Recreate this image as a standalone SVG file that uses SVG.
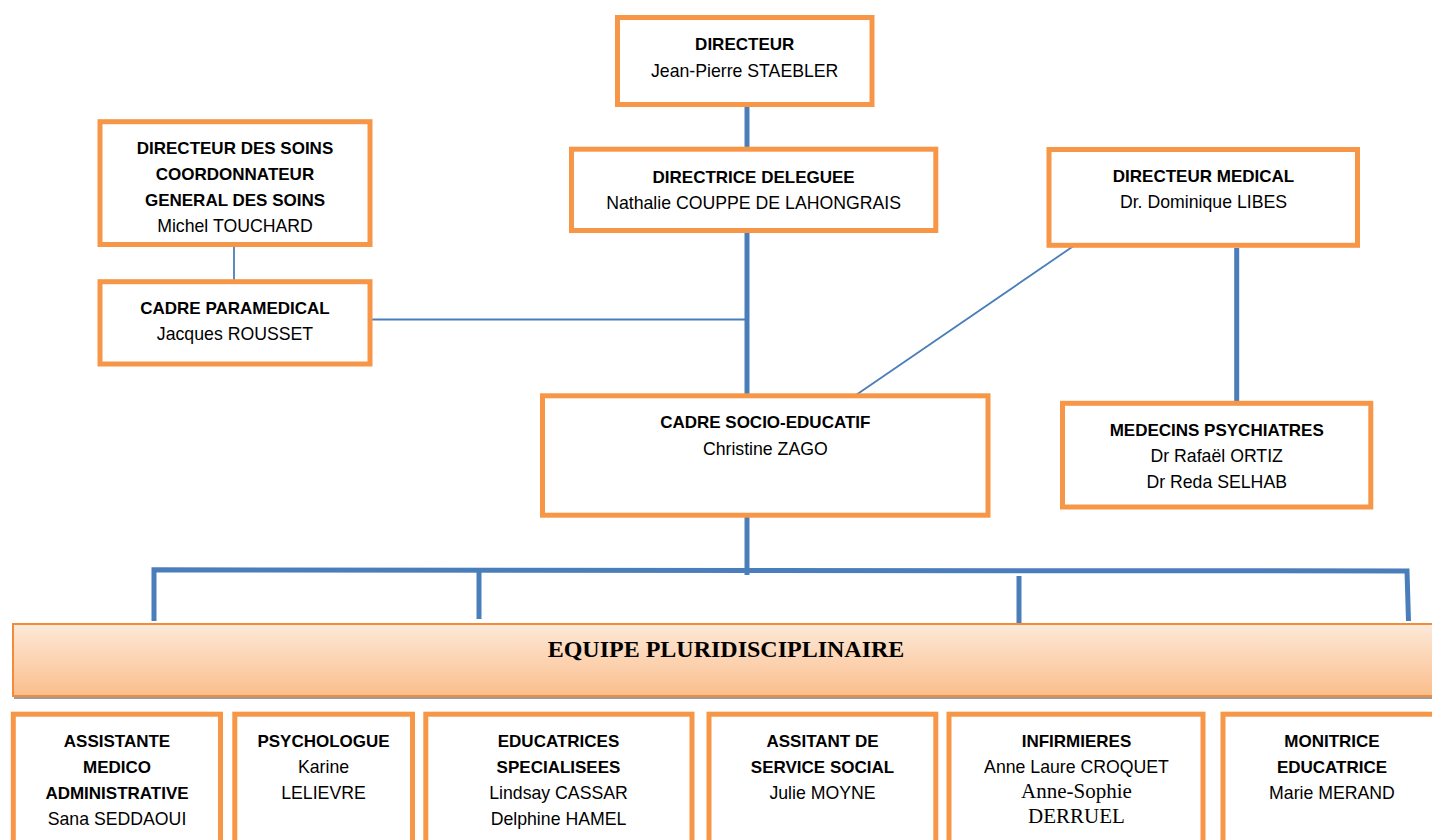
<svg xmlns="http://www.w3.org/2000/svg" width="1432" height="840" viewBox="0 0 1432 840">
<defs>
<linearGradient id="bandGrad" x1="0" y1="0" x2="0" y2="1">
<stop offset="0" stop-color="#FDE9D9"/>
<stop offset="1" stop-color="#FBBE8C"/>
</linearGradient>
</defs>
<style>
.box{fill:#FFFFFF;stroke:#F79646;stroke-width:5}
.thick{stroke:#4A7EBB;stroke-width:5;fill:none}
.thin{stroke:#4A7EBB;stroke-width:1.8;fill:none}
text{font-family:"Liberation Sans",Arial,sans-serif;fill:#000;text-anchor:middle}
.b{font-weight:bold;font-size:17px}
.r{font-size:17.7px}
.t{font-family:"Liberation Serif","Times New Roman",serif;font-size:21px}
.band{font-family:"Liberation Serif","Times New Roman",serif;font-weight:bold;font-size:24px}
</style>
<rect width="1432" height="840" fill="#FFFFFF"/>
<g id="connectors">
<line class="thick" x1="747" y1="107" x2="747" y2="147"/>
<line class="thick" x1="747" y1="232" x2="747" y2="394"/>
<line class="thin" x1="372" y1="319.5" x2="747" y2="319.5"/>
<line class="thin" x1="234" y1="247" x2="234" y2="280"/>
<line class="thin" x1="1075" y1="245" x2="856" y2="395"/>
<line class="thick" x1="1236.7" y1="248" x2="1236.7" y2="402"/>
<line class="thick" x1="747" y1="517" x2="747" y2="575"/>
<polyline class="thick" points="154,621 154,569.8 1407,571 1408.5,621"/>
<line class="thick" x1="479" y1="571" x2="479" y2="619"/>
<line class="thick" x1="1019" y1="576" x2="1019" y2="627"/>
</g>
<g id="directeur">
<rect class="box" x="617.5" y="17.5" width="254.5" height="87"/>
<text class="b" x="744.7" y="50">DIRECTEUR</text>
<text class="r" x="744.7" y="76.5">Jean-Pierre STAEBLER</text>
</g>
<g id="directrice-deleguee">
<rect class="box" x="571.5" y="149.2" width="364.3" height="81.3"/>
<text class="b" x="753.6" y="183">DIRECTRICE DELEGUEE</text>
<text class="r" x="753.6" y="209">Nathalie COUPPE DE LAHONGRAIS</text>
</g>
<g id="directeur-soins">
<rect class="box" x="100" y="121.7" width="270" height="122.8"/>
<text class="b" x="235" y="154">DIRECTEUR DES SOINS</text>
<text class="b" x="235" y="180">COORDONNATEUR</text>
<text class="b" x="235" y="206">GENERAL DES SOINS</text>
<text class="r" x="235" y="232">Michel TOUCHARD</text>
</g>
<g id="cadre-paramedical">
<rect class="box" x="100" y="281.7" width="270" height="82.3"/>
<text class="b" x="235" y="314">CADRE PARAMEDICAL</text>
<text class="r" x="235" y="340">Jacques ROUSSET</text>
</g>
<g id="directeur-medical">
<rect class="box" x="1049" y="149.5" width="308.5" height="95.8"/>
<text class="b" x="1203.5" y="182">DIRECTEUR MEDICAL</text>
<text class="r" x="1203.5" y="208">Dr. Dominique LIBES</text>
</g>
<g id="medecins-psychiatres">
<rect class="box" x="1062.5" y="403.3" width="308.3" height="103.7"/>
<text class="b" x="1216.7" y="436">MEDECINS PSYCHIATRES</text>
<text class="r" x="1216.7" y="462">Dr Rafaël ORTIZ</text>
<text class="r" x="1216.7" y="488">Dr Reda SELHAB</text>
</g>
<g id="cadre-socio-educatif">
<rect class="box" x="542.5" y="395.8" width="445.5" height="119.4"/>
<text class="b" x="765.3" y="428">CADRE SOCIO-EDUCATIF</text>
<text class="r" x="765.3" y="454.5">Christine ZAGO</text>
</g>
<g id="equipe-pluridisciplinaire">
<rect x="14" y="627" width="1430" height="72" fill="#9C9C9C"/>
<rect x="13" y="624" width="1430" height="72" fill="url(#bandGrad)" stroke="#F38B3C" stroke-width="2"/>
<text class="band" x="726" y="657">EQUIPE PLURIDISCIPLINAIRE</text>
</g>
<g id="assistante-medico">
<rect class="box" x="13.3" y="714.2" width="207.2" height="140"/>
<text class="b" x="117" y="747">ASSISTANTE</text>
<text class="b" x="117" y="773">MEDICO</text>
<text class="b" x="117" y="799">ADMINISTRATIVE</text>
<text class="r" x="117" y="825">Sana SEDDAOUI</text>
</g>
<g id="psychologue">
<rect class="box" x="234.8" y="714.2" width="177.7" height="140"/>
<text class="b" x="323.5" y="747">PSYCHOLOGUE</text>
<text class="r" x="323.5" y="773">Karine</text>
<text class="r" x="323.5" y="799">LELIEVRE</text>
</g>
<g id="educatrices">
<rect class="box" x="425.8" y="714.2" width="266.2" height="140"/>
<text class="b" x="558.5" y="747">EDUCATRICES</text>
<text class="b" x="558.5" y="773">SPECIALISEES</text>
<text class="r" x="558.5" y="799">Lindsay CASSAR</text>
<text class="r" x="558.5" y="825">Delphine HAMEL</text>
</g>
<g id="assistant-social">
<rect class="box" x="709" y="714.2" width="226.8" height="140"/>
<text class="b" x="822.5" y="747">ASSITANT DE</text>
<text class="b" x="822.5" y="773">SERVICE SOCIAL</text>
<text class="r" x="822.5" y="799">Julie MOYNE</text>
</g>
<g id="infirmieres">
<rect class="box" x="949" y="714.2" width="254" height="140"/>
<text class="b" x="1076.5" y="747">INFIRMIERES</text>
<text class="r" x="1076.5" y="773">Anne Laure CROQUET</text>
<text class="t" x="1076.5" y="798">Anne-Sophie</text>
<text class="t" x="1076.5" y="823">DERRUEL</text>
</g>
<g id="monitrice">
<rect class="box" x="1223" y="714.2" width="220" height="140"/>
<text class="b" x="1332" y="747">MONITRICE</text>
<text class="b" x="1332" y="773">EDUCATRICE</text>
<text class="r" x="1332" y="799">Marie MERAND</text>
</g>
</svg>
